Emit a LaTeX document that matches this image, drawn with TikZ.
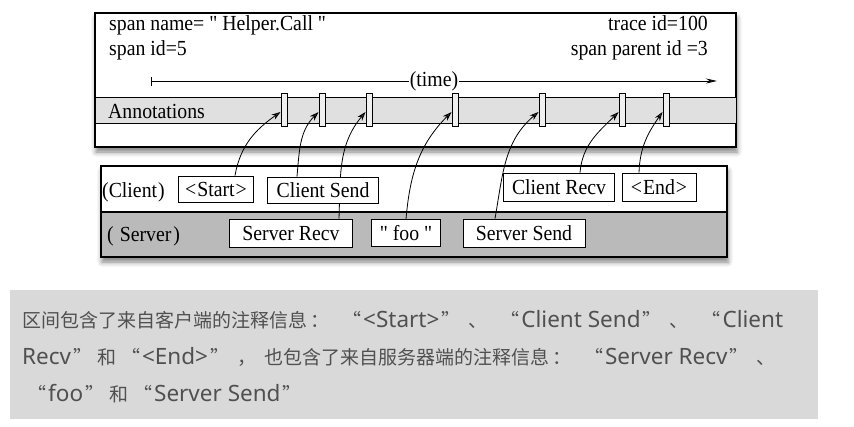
\documentclass[tikz,border=0pt]{standalone}
\usepackage{fontspec}
\newfontfamily\diag{Liberation Serif}[FakeStretch = 0.92]
\newfontfamily\cjk{Noto Sans CJK SC}
\newfontfamily\noteLatinFont{Noto Sans}
\newcommand{\noteLat}[1]{{\noteLatinFont\fontsize{22.5}{22}\selectfont #1}}
\newcommand{\openQ}{\makebox[26pt][r]{“\hspace{2pt}}}
\newcommand{\closeQ}{\makebox[26pt][l]{\hspace{2pt}”}}
\newcommand{\punct}[1]{\makebox[30pt][l]{\hspace{3pt}#1}}
\usetikzlibrary{arrows.meta,shadows.blur}

\definecolor{bandGray}{RGB}{224,224,224}
\definecolor{serverGray}{RGB}{186,186,186}
\definecolor{noteGray}{RGB}{217,217,217}
\definecolor{noteText}{RGB}{80,80,80}

\pgfdeclarelayer{back}
\pgfdeclarelayer{lines}
\pgfsetlayers{back,lines,main}

\begin{document}
\begin{tikzpicture}[x = 1pt, y = -1pt]
\tikzstyle{labelStyle} = [draw, line width = 0.9pt, fill = white, inner sep = 0pt,
font = \diag\fontsize{21.5}{24}\selectfont]
\tikzstyle{markStyle} = [draw, line width = 1pt, fill = white!94!black,
minimum width = 6pt, minimum height = 33pt, inner sep = 0pt]
\tikzstyle{linkStyle} = [line width = 0.8pt, -{Stealth[length = 9pt, width = 6pt]}]
\tikzstyle{infoStyle} = [anchor = base west, inner sep = 0pt, font = \diag\fontsize{21.5}{24}\selectfont]
\tikzstyle{noteStyle} = [anchor = base west, inner sep = 0pt, text = noteText,
font = \cjk\fontsize{19}{22}\selectfont]
\tikzstyle{shadowStyle} = [blur shadow = {shadow xshift = 1pt, shadow yshift = -5pt,
shadow blur radius = 5pt, shadow opacity = 50}]
\useasboundingbox (0,0) rectangle (854,426);
% span box and client / server box
\begin{pgfonlayer}{back}
\filldraw [fill = white, line width = 1.2pt, shadowStyle] (95,13) rectangle (736,147);
\filldraw [fill = bandGray, line width = 1pt] (95,97) rectangle (736,123);
\filldraw [fill = white, line width = 1.4pt, shadowStyle] (101,166) rectangle (727,257);
\filldraw [fill = serverGray, line width = 1.2pt] (101,212) rectangle (727,257);
\end{pgfonlayer}
\node[infoStyle] (spanname) at (109,30) {span name= " Helper.Call "};
\node[infoStyle] (spanid) at (109,55) {span id=5};
\node[infoStyle, anchor = base east] (traceid) at (708,30) {trace id=100};
\node[infoStyle, anchor = base east] (parentid) at (708,55) {span parent id =3};
\node[infoStyle] (annotations) at (108,118) {Annotations};
% time axis
\coordinate (t0) at (151,81);
\coordinate (t1) at (717,81);
\draw [line width = 0.8pt, {Bar[width = 9pt]}-{Stealth[length = 11pt, width = 5pt]}]
(t0) -- node[fill = white, inner sep = 1pt, font = \diag\fontsize{21.5}{24}\selectfont] (time) {(time)} (t1);
% annotation marks
\node[markStyle] (m1) at (284,110) {};
\node[markStyle] (m2) at (322,110) {};
\node[markStyle] (m3) at (369,110) {};
\node[markStyle] (m4) at (455,110) {};
\node[markStyle] (m5) at (542,110) {};
\node[markStyle] (m6) at (622,110) {};
\node[markStyle] (m7) at (666,110) {};
% client and server annotations
\node[infoStyle] (client) at (102,197) {(Client\hspace{1pt})};
\node[infoStyle] (server) at (107,241) {(\hspace{6pt}Server\hspace{2pt})};
\node[labelStyle, minimum width = 75pt, minimum height = 26pt] (start) at (216,189) {<\hspace{1pt}Start\hspace{1pt}>};
\node[labelStyle, minimum width = 111pt, minimum height = 26pt] (csend) at (323,190) {Client Send};
\node[labelStyle, minimum width = 111pt, minimum height = 28pt] (crecv) at (559,187) {Client Recv};
\node[labelStyle, minimum width = 74pt, minimum height = 28pt] (end) at (659,187) {<\hspace{1pt}End\hspace{1pt}>};
\node[labelStyle, minimum width = 123pt, minimum height = 28pt] (srecv) at (291,233) {Server Recv};
\node[labelStyle, minimum width = 69pt, minimum height = 27pt] (foo) at (406,233) {" foo "};
\node[labelStyle, minimum width = 122pt, minimum height = 28pt] (ssend) at (524,233) {Server Send};
\begin{pgfonlayer}{lines}
\path [linkStyle]
([xshift = 19pt]start.north) edge [out = 80, in = 215] ([yshift = -2pt]m1.west)
([xshift = -26pt]csend.north) edge [out = 85, in = 225] ([yshift = -2pt]m2.west)
([xshift = 48pt]srecv.north) edge [out = 88, in = 230] ([yshift = -2pt]m3.west)
(foo.north) edge [out = 85, in = 225] ([yshift = -2pt]m4.west)
([xshift = -29pt]ssend.north) edge [out = 80, in = 220] ([yshift = -2pt]m5.west)
([xshift = 21pt]crecv.north) edge [out = 85, in = 225] ([yshift = -2pt]m6.west)
([xshift = -20pt]end.north) edge [out = 88, in = 235] ([yshift = -2pt]m7.west);
\end{pgfonlayer}
% caption
\fill [noteGray] (10,290) rectangle (818,419);
\node[noteStyle] (note1) at (22,327) {区间包含了来自客户端的注释信息\punct{：}\openQ\noteLat{<Start>}\closeQ\punct{、}\openQ\noteLat{Client Send}\closeQ\punct{、}\openQ\noteLat{Client}};
\node[noteStyle] (note2) at (22,364) {\noteLat{Recv}\closeQ 和\openQ\noteLat{<End>}\closeQ\punct{，}也包含了来自服务器端的注释信息\punct{：}\openQ\noteLat{Server Recv}\closeQ\punct{、}};
\node[noteStyle] (note3) at (22,401) {\openQ\noteLat{foo}\closeQ 和\openQ\noteLat{Server Send}\closeQ};
\end{tikzpicture}
\end{document}
